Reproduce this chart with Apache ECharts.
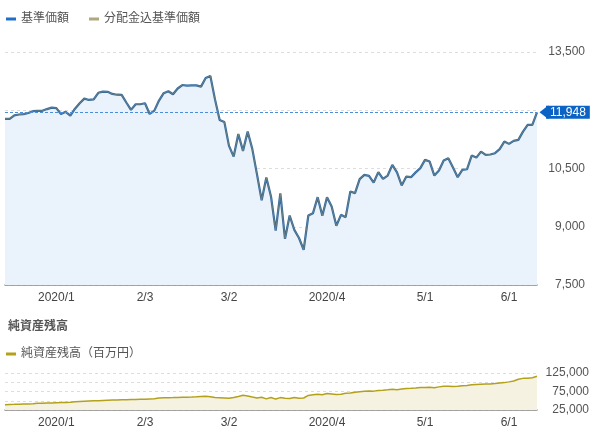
<!DOCTYPE html>
<html><head><meta charset="utf-8">
<script src="https://cdn.jsdelivr.net/npm/echarts@6/dist/echarts.min.js"></script>
<style>html,body{margin:0;padding:0;background:#fff}#c{width:600px;height:430px}</style>
</head><body><div id="c"></div>
<script>
const dates = [
'2019/12/16','2019/12/17','2019/12/18','2019/12/19','2019/12/20','2019/12/23','2019/12/24','2019/12/25','2019/12/26','2019/12/27','2019/12/30',
'2020/1/6','2020/1/7','2020/1/8','2020/1/9','2020/1/10','2020/1/14','2020/1/15','2020/1/16','2020/1/17','2020/1/20','2020/1/21','2020/1/22','2020/1/23','2020/1/24','2020/1/27','2020/1/28','2020/1/29','2020/1/30','2020/1/31',
'2020/2/3','2020/2/4','2020/2/5','2020/2/6','2020/2/7','2020/2/10','2020/2/12','2020/2/13','2020/2/14','2020/2/17','2020/2/18','2020/2/19','2020/2/20','2020/2/21','2020/2/25','2020/2/26','2020/2/27','2020/2/28',
'2020/3/2','2020/3/3','2020/3/4','2020/3/5','2020/3/6','2020/3/9','2020/3/10','2020/3/11','2020/3/12','2020/3/13','2020/3/16','2020/3/17','2020/3/18','2020/3/19','2020/3/23','2020/3/24','2020/3/25','2020/3/26','2020/3/27','2020/3/30','2020/3/31',
'2020/4/1','2020/4/2','2020/4/3','2020/4/6','2020/4/7','2020/4/8','2020/4/9','2020/4/10','2020/4/13','2020/4/14','2020/4/15','2020/4/16','2020/4/17','2020/4/20','2020/4/21','2020/4/22','2020/4/23','2020/4/24','2020/4/27','2020/4/28','2020/4/30',
'2020/5/1','2020/5/7','2020/5/8','2020/5/11','2020/5/12','2020/5/13','2020/5/14','2020/5/15','2020/5/18','2020/5/19','2020/5/20','2020/5/21','2020/5/22','2020/5/25','2020/5/26','2020/5/27','2020/5/28','2020/5/29',
'2020/6/1','2020/6/2','2020/6/3','2020/6/4','2020/6/5','2020/6/8','2020/6/9'
];

const navValues = [
11780,11780,11870,11890,11900,11930,11975,11985,11985,12030,12068,
12055,11905,11960,11860,12040,12180,12300,12265,12280,12450,12480,12475,12420,12400,12394,12200,12010,12155,12155,
12180,11905,11990,12250,12440,12490,12412,12560,12650,12635,12640,12640,12608,12830,12885,12280,11751,11700,
11082,10807,11390,10954,11450,11000,10350,9680,10270,9780,8900,9860,8690,9290,8920,8710,8407,9290,9350,9762,9281,
9762,9521,9025,9307,9247,9907,9865,10226,10337,10311,10139,10406,10234,10319,10594,10400,10065,10293,10277,10400,10509,
10722,10678,10319,10447,10704,10766,10524,10277,10465,10480,10832,10781,10936,10851,10860,10894,10997,11193,
11134,11211,11237,11450,11622,11622,11948
];

const navWithDistribution = [
11780,11780,11870,11890,11900,11930,11975,11985,11985,12030,12068,
12055,11905,11960,11860,12040,12180,12300,12265,12280,12450,12480,12475,12420,12400,12394,12200,12010,12155,12155,
12180,11905,11990,12250,12440,12490,12412,12560,12650,12635,12640,12640,12608,12830,12885,12280,11751,11700,
11082,10807,11390,10954,11450,11000,10350,9680,10270,9780,8900,9860,8690,9290,8920,8710,8407,9290,9350,9762,9281,
9762,9521,9025,9307,9247,9907,9865,10226,10337,10311,10139,10406,10234,10319,10594,10400,10065,10293,10277,10400,10509,
10722,10678,10319,10447,10704,10766,10524,10277,10465,10480,10832,10781,10936,10851,10860,10894,10997,11193,
11134,11211,11237,11450,11622,11622,11948
];

const netAssets = [
39500,40000,40300,40800,41200,41500,42000,43000,43300,43800,44200,
44600,45000,45500,46000,47000,47800,48500,49200,49800,50300,50800,51300,51800,52300,52600,52800,53200,53500,54000,
54300,55000,55400,57500,58000,58300,58600,59000,59300,59600,60000,60500,61500,62000,60500,58500,58000,57500,
57000,59000,61500,64700,63000,60000,57500,59500,55000,59000,54500,58500,56500,56000,58500,57000,57500,64500,66000,67500,66500,
69400,68500,67000,67500,70000,71000,73000,74500,75500,76500,76000,78000,78500,79500,81000,80000,81500,83000,83500,84500,85800,
86000,86500,85000,87500,89000,89500,88500,89000,90500,91500,93000,94000,94500,95000,95500,96500,98000,99000,
101000,103500,108000,110500,111000,112000,116000
];

const tickDates = ['2020/1/6','2020/2/3','2020/3/2','2020/4/1','2020/5/1','2020/6/1'];
const tickLabels = ['2020/1','2/3','3/2','2020/4','5/1','6/1'];
const latestValue = 11948;
const navTicks = [7500, 9000, 10500, 12000, 13500];
const assetTicks = [25000, 50000, 75000, 100000, 125000];
const assetTicksShown = [25000, 75000, 125000];

const fmt = v => v.toLocaleString('en-US');
const font = 'Arial, "Liberation Sans", "Noto Sans CJK JP", sans-serif';
const tickMap = {};
tickDates.forEach((d, i) => tickMap[d] = tickLabels[i]);

const xAxisCommon = {
  type: 'category',
  data: dates,
  boundaryGap: false,
  axisTick: { show: false },
  axisLine: { lineStyle: { color: '#8a8a8a', width: 1.5 } },
  splitLine: { show: false },
  axisLabel: {
    interval: (idx, val) => tickMap[val] !== undefined,
    formatter: v => tickMap[v] || '',
    color: '#444', fontSize: 12, fontFamily: font, margin: 7
  }
};

const chart = echarts.init(document.getElementById('c'), null, { renderer: 'canvas' });
chart.setOption({
  animation: false,
  textStyle: { fontFamily: font },
  title: {
    text: '純資産残高', left: 3, top: 316,
    textStyle: { fontSize: 12, fontWeight: 'bold', color: '#555', fontFamily: font }
  },
  legend: [
    {
      data: ['基準価額', '分配金込基準価額'],
      left: 1, top: 8, icon: 'rect', itemWidth: 10, itemHeight: 3, itemGap: 20,
      textStyle: { fontSize: 12, color: '#555', fontFamily: font }
    },
    {
      data: ['純資産残高（百万円）'],
      left: 1, top: 343, icon: 'rect', itemWidth: 10, itemHeight: 3,
      textStyle: { fontSize: 12, color: '#555', fontFamily: font }
    }
  ],
  grid: [
    { left: 5, right: 63, top: 52, height: 233 },
    { left: 5, right: 63, top: 373, height: 37 }
  ],
  xAxis: [
    Object.assign({ gridIndex: 0 }, xAxisCommon),
    Object.assign({ gridIndex: 1 }, xAxisCommon)
  ],
  yAxis: [
    {
      gridIndex: 0, type: 'value', position: 'right',
      min: navTicks[0], max: navTicks[navTicks.length - 1], interval: 1500,
      axisLine: { show: false }, axisTick: { show: false },
      splitLine: { lineStyle: { color: '#ddd', type: [3, 3] } },
      axisLabel: {
        formatter: v => (v === 12000 ? '' : fmt(v)),
        color: '#555', fontSize: 12, fontFamily: font, align: 'right', margin: 48
      }
    },
    {
      gridIndex: 1, type: 'value', position: 'right',
      min: assetTicks[0], max: assetTicks[assetTicks.length - 1], interval: 25000,
      axisLine: { show: false }, axisTick: { show: false },
      splitLine: { lineStyle: { color: '#ddd', type: [3, 3] } },
      axisLabel: {
        formatter: v => (assetTicksShown.indexOf(v) >= 0 ? fmt(v) : ''),
        color: '#555', fontSize: 12, fontFamily: font, align: 'right', margin: 52
      }
    }
  ],
  series: [
    {
      name: '基準価額', type: 'line', xAxisIndex: 0, yAxisIndex: 0,
      data: navValues, showSymbol: false, symbol: 'none',
      lineStyle: { color: '#2f67a0', width: 2.2 },
      itemStyle: { color: '#1f6fc8' },
      areaStyle: { color: '#eaf2fb', opacity: 1, origin: 'start' },
      markLine: {
        silent: true, symbol: ['none', 'none'],
        lineStyle: { color: '#4a8ddb', type: [3, 2], width: 1 },
        label: {
          position: 'end', distance: 9, formatter: fmt(latestValue),
          color: '#fff', backgroundColor: '#0b63c6', padding: [1, 4, 0, 4],
          fontSize: 12, fontFamily: font
        },
        data: [{ yAxis: latestValue }]
      },
      markPoint: {
        silent: true,
        symbol: 'triangle', symbolRotate: 90, symbolSize: [14, 9], symbolOffset: [7, 0],
        itemStyle: { color: '#0b63c6' },
        label: { show: false },
        data: [{ coord: [dates[dates.length - 1], latestValue] }]
      },
      z: 2
    },
    {
      name: '分配金込基準価額', type: 'line', xAxisIndex: 0, yAxisIndex: 0,
      data: navWithDistribution, showSymbol: false, symbol: 'none',
      lineStyle: { color: '#a99c62', width: 0.8, opacity: 0.6 },
      itemStyle: { color: '#b0a77c' },
      z: 3
    },
    {
      name: '純資産残高（百万円）', type: 'line', xAxisIndex: 1, yAxisIndex: 1,
      data: netAssets, showSymbol: false, symbol: 'none',
      lineStyle: { color: '#b3a11c', width: 1.5 },
      itemStyle: { color: '#b3a11c' },
      areaStyle: { color: '#f6f2e2', opacity: 1, origin: 'start' }
    }
  ]
});
</script>
</body></html>
